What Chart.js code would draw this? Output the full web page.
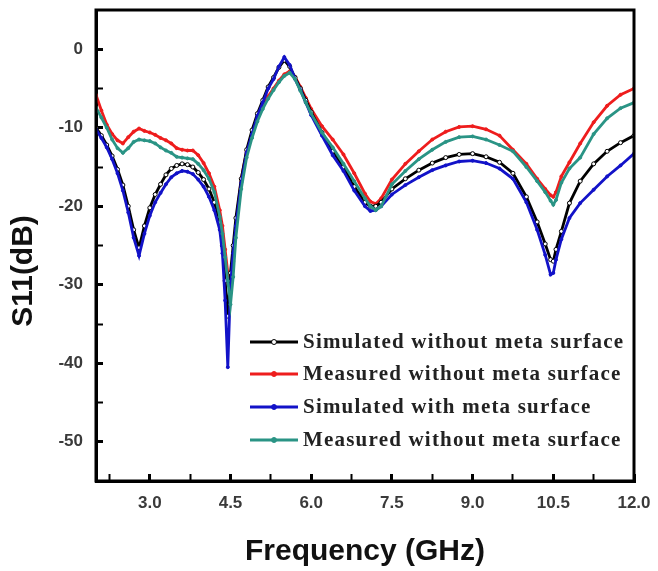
<!DOCTYPE html>
<html>
<head>
<meta charset="utf-8">
<title>S11 vs Frequency</title>
<script src="https://cdn.jsdelivr.net/npm/chart.js@4.4.1/dist/chart.umd.min.js"></script>
<style>
    html, body { margin: 0; padding: 0; background: #fff; }
    #wrap { width: 658px; height: 571px; }
</style>
</head>
<body>
<div id="wrap"><canvas id="s11Chart"></canvas></div>
<script>
// ---- data ----
const freqGHz = [2.0, 2.1, 2.2, 2.3, 2.4, 2.5, 2.6, 2.7, 2.8, 2.9,
    3.0, 3.1, 3.2, 3.3, 3.4, 3.5, 3.6, 3.7, 3.8, 3.9,
    4.0, 4.1, 4.2, 4.3, 4.35, 4.4, 4.45, 4.5, 4.55, 4.6,
    4.7, 4.8, 4.9, 5.0, 5.1, 5.2, 5.3, 5.4, 5.5, 5.6,
    5.7, 5.8, 5.9, 6.0, 6.2, 6.4, 6.6, 6.8, 7.0, 7.1,
    7.2, 7.3, 7.5, 7.75, 8.0, 8.25, 8.5, 8.75, 9.0, 9.25,
    9.5, 9.75, 10.0, 10.2, 10.35, 10.45, 10.5, 10.55, 10.65, 10.8,
    11.0, 11.25, 11.5, 11.75, 12.0];

const simWithout = [-10.0, -11.0, -12.2, -13.6, -15.3, -17.3, -20.0, -23.0, -25.3, -22.5,
    -20.2, -18.5, -17.2, -16.0, -15.2, -14.8, -14.6, -14.7, -15.0, -15.7,
    -16.6, -17.8, -19.5, -22.0, -25.0, -29.5, -34.0, -28.5, -25.0, -21.5,
    -16.5, -12.8, -10.3, -8.2, -6.5, -4.8, -3.6, -2.3, -1.4, -2.2,
    -3.6, -5.0, -6.5, -8.0, -10.6, -13.0, -15.0, -17.5, -19.5, -20.0,
    -20.0, -19.5, -17.8, -16.5, -15.4, -14.5, -13.8, -13.4, -13.3, -13.7,
    -14.4, -15.8, -18.8, -22.0, -24.8, -26.8, -27.0, -25.5, -23.2, -19.6,
    -16.8, -14.6, -13.0, -11.9, -11.0];

const measWithout = [-5.8, -7.8, -9.6, -10.8, -11.6, -12.0, -11.2, -10.5, -10.1, -10.4,
    -10.6, -10.9, -11.3, -11.6, -12.0, -12.6, -12.8, -12.9, -12.9, -13.5,
    -14.5, -15.8, -17.5, -20.5, -22.5, -25.5, -28.5, -30.0, -27.0, -22.5,
    -16.5, -13.0, -10.8, -8.8, -7.2, -6.0, -5.0, -4.0, -3.2, -2.8,
    -3.5, -4.8, -6.2, -7.6, -9.8, -11.5, -13.4, -15.8, -18.4, -19.4,
    -19.7, -19.0, -16.6, -14.6, -13.0, -11.5, -10.5, -9.9, -9.8, -10.2,
    -11.0, -12.8, -14.6, -16.5, -17.8, -18.6, -18.8, -18.2, -16.2, -14.4,
    -12.0, -9.3, -7.2, -5.8, -5.0];

const simWith = [-10.2, -11.3, -12.5, -14.0, -15.8, -18.0, -20.8, -24.0, -26.3, -23.5,
    -21.2, -19.5, -18.3, -17.2, -16.3, -15.8, -15.5, -15.6, -15.9, -16.6,
    -17.5, -18.8, -20.5, -23.0, -26.0, -32.0, -40.5, -30.0, -26.0, -22.5,
    -17.0, -13.2, -10.8, -8.5, -6.8, -5.0, -3.8, -2.2, -1.0, -2.0,
    -3.8, -5.2, -6.8, -8.4, -11.0, -13.5, -15.5, -18.0, -20.0, -20.6,
    -20.5, -20.0, -18.5, -17.3, -16.3, -15.4, -14.8, -14.3, -14.2, -14.5,
    -15.2, -16.5, -19.5, -23.0, -26.2, -28.7, -28.5, -26.8, -24.2, -21.5,
    -19.6, -17.9, -16.2, -14.8, -13.3];

const measWithout2 = [-7.4, -8.7, -10.0, -11.5, -12.6, -13.2, -12.6, -11.8, -11.5, -11.6,
    -11.7, -12.0, -12.5, -12.9, -13.2, -13.7, -13.8, -13.9, -14.0, -14.6,
    -15.4, -16.5, -18.2, -21.3, -23.5, -26.5, -29.5, -32.5, -29.0, -24.0,
    -17.8, -13.8, -11.3, -9.2, -7.6, -6.3, -5.2, -4.2, -3.4, -3.0,
    -3.8, -5.3, -6.8, -8.2, -10.6, -12.5, -14.6, -16.8, -19.0, -20.0,
    -20.5, -20.0, -17.2, -15.5, -14.0, -12.8, -11.8, -11.2, -11.1, -11.5,
    -12.2, -13.0, -15.0, -16.8, -18.2, -19.3, -19.8, -19.2, -17.0, -15.2,
    -13.8, -10.8, -8.8, -7.5, -6.8];

const seriesLabels = ['Simulated without meta surface', 'Measured without meta surface',
    'Simulated with meta surface', 'Measured without meta surface'];

// tick labels
const xMajorTicks = [3.0, 4.5, 6.0, 7.5, 9.0, 10.5, 12.0];
const xMinorTicks = [2.25, 3.75, 5.25, 6.75, 8.25, 9.75, 11.25];
const yMajorTicks = [0, -10, -20, -30, -40, -50];
const yMinorTicks = [-5, -15, -25, -35, -45];

function toPoints(values) {
    return freqGHz.map((f, i) => ({ x: f, y: values[i] }));
}

const TICK_FONT = { family: '"Liberation Sans", Arial, sans-serif', size: 17, weight: 'bold' };

// stop Chart.js from adding label overhang to the plot margins
function noScalePadding(scale) {
    scale.paddingTop = 0;
    scale.paddingBottom = 0;
    scale.paddingLeft = 0;
    scale.paddingRight = 0;
}

// frame around plot area (top/right sides too)
const framePlugin = {
    id: 'frame',
    afterDraw(chart) {
        const { ctx, chartArea } = chart;
        ctx.save();
        ctx.strokeStyle = '#000';
        ctx.lineWidth = 3;
        ctx.strokeRect(chartArea.left, chartArea.top, chartArea.right - chartArea.left, chartArea.bottom - chartArea.top);
        ctx.restore();
    }
};

// rotated y title, sitting a bit lower than centre like the original
const yTitlePlugin = {
    id: 'yTitle',
    afterDraw(chart) {
        const ctx = chart.ctx;
        ctx.save();
        ctx.translate(24, 271);
        ctx.rotate(-Math.PI / 2);
        ctx.font = 'bold 30px "Liberation Sans", Arial, sans-serif';
        ctx.fillStyle = '#111';
        ctx.textAlign = 'center';
        ctx.textBaseline = 'middle';
        ctx.fillText('S11(dB)', 0, 0);
        ctx.restore();
    }
};

// legend box inside the plot, lower right
const insideLegend = {
    id: 'insideLegend',
    afterDraw(chart) {
        const ctx = chart.ctx;
        const rowsY = [342, 374, 407, 440];
        ctx.save();
        ctx.font = 'bold 21px "Liberation Serif", "Times New Roman", serif';
        ctx.letterSpacing = '1.2px';
        ctx.textBaseline = 'middle';
        ctx.textAlign = 'left';
        chart.data.datasets.forEach((ds, i) => {
            const y = rowsY[i];
            ctx.strokeStyle = ds.borderColor;
            ctx.lineWidth = 3;
            ctx.beginPath();
            ctx.moveTo(250, y);
            ctx.lineTo(298, y);
            ctx.stroke();
            ctx.beginPath();
            ctx.arc(274, y, 2.5, 0, Math.PI * 2);
            ctx.fillStyle = ds.pointBackgroundColor;
            ctx.fill();
            ctx.lineWidth = 1;
            ctx.stroke();
            ctx.fillStyle = '#222';
            ctx.fillText(ds.label, 303, y + 1);
        });
        ctx.restore();
    }
};

function makeDataset(label, values, color, fill, order, radius) {
    return {
        label: label,
        data: toPoints(values),
        borderColor: color,
        backgroundColor: color,
        borderWidth: 2.8,
        pointRadius: radius,
        pointBackgroundColor: fill,
        pointBorderColor: color,
        pointBorderWidth: 1,
        tension: 0,
        order: order
    };
}

const ctx = document.getElementById('s11Chart').getContext('2d');
new Chart(ctx, {
    type: 'line',
    data: {
        datasets: [
            makeDataset(seriesLabels[0], simWithout, '#000000', '#ffffff', 3, 2),
            makeDataset(seriesLabels[1], measWithout, '#ee1d1d', '#ee1d1d', 4, 1.5),
            makeDataset(seriesLabels[2], simWith, '#1212c8', '#1212c8', 2, 1.5),
            makeDataset(seriesLabels[3], measWithout2, '#2a9485', '#2a9485', 1, 1.5)
        ]
    },
    options: {
        responsive: true,
        maintainAspectRatio: false,
        animation: false,
        events: [],
        layout: { padding: { left: 0, top: 10, right: 24, bottom: 0 } },
        plugins: {
            legend: { display: false },
            tooltip: { enabled: false }
        },
        scales: {
            x: {
                type: 'linear',
                min: 2,
                max: 12,
                afterBuildTicks: function(scale) {
                    scale.ticks = xMinorTicks.concat(xMajorTicks).sort((a, b) => a - b).map(v => ({ value: v }));
                },
                afterFit: function(scale) {
                    scale.height = 90;
                    noScalePadding(scale);
                },
                ticks: {
                    autoSkip: false,
                    maxRotation: 0,
                    padding: 19,
                    color: '#3a3a3a',
                    font: TICK_FONT,
                    callback: function(value) {
                        return xMajorTicks.includes(value) ? value.toFixed(1) : '';
                    }
                },
                grid: {
                    drawOnChartArea: false,
                    drawTicks: true,
                    tickLength: -7,
                    tickColor: '#000',
                    tickWidth: c => xMajorTicks.includes(c.tick.value) ? 3 : 2
                },
                border: { display: true, color: '#000', width: 3 },
                title: {
                    display: true,
                    text: 'Frequency (GHz)',
                    color: '#111',
                    font: { family: '"Liberation Sans", Arial, sans-serif', size: 30, weight: 'bold' },
                    padding: { top: 0, bottom: 1 }
                }
            },
            y: {
                type: 'linear',
                min: -55,
                max: 5,
                afterBuildTicks: function(scale) {
                    scale.ticks = yMinorTicks.concat(yMajorTicks).sort((a, b) => a - b).map(v => ({ value: v }));
                },
                afterFit: function(scale) {
                    scale.width = 96;
                    noScalePadding(scale);
                },
                ticks: {
                    autoSkip: false,
                    padding: 20,
                    color: '#3a3a3a',
                    font: TICK_FONT,
                    callback: function(value) {
                        return yMajorTicks.includes(value) ? String(value) : '';
                    }
                },
                grid: {
                    drawOnChartArea: false,
                    drawTicks: true,
                    tickLength: -7,
                    tickColor: '#000',
                    tickWidth: c => yMajorTicks.includes(c.tick.value) ? 3 : 2
                },
                border: { display: true, color: '#000', width: 3 }
            }
        }
    },
    plugins: [framePlugin, yTitlePlugin, insideLegend]
});
</script>
</body>
</html>
